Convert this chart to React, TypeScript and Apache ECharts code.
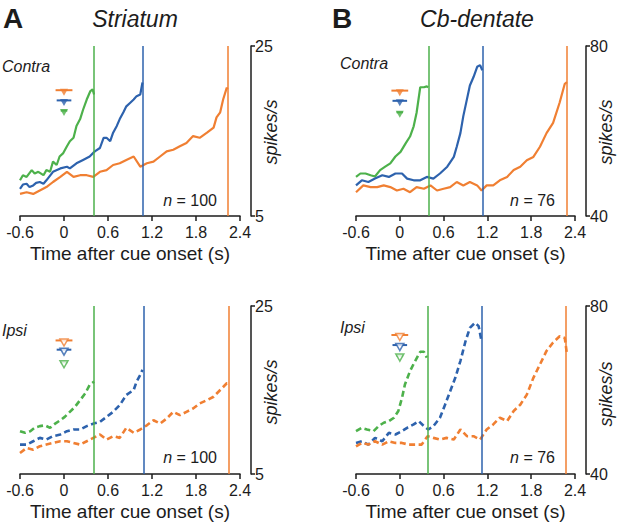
import React, { useEffect, useRef } from "react";
import * as echarts from "echarts";

const ORANGE = "#F07F32";
const BLUE = "#2D62AD";
const GREEN = "#4DB14B";
const INK = "#1c1c1c";
const FONT = "'Liberation Sans', Arial, sans-serif";

const X_TICKS = [-0.6, 0, 0.6, 1.2, 1.8, 2.4];

// ---- Panel A, Striatum, Contra ----
const aTopGreenT = [-0.6, -0.56, -0.51, -0.44, -0.4, -0.35, -0.28, -0.24, -0.19, -0.15, -0.1, -0.06, -0.01, 0.04, 0.08, 0.13, 0.17, 0.22, 0.26, 0.31, 0.36, 0.39, 0.41];
const aTopGreenV = [9.2, 9.8, 9.6, 10.4, 10.0, 10.2, 9.8, 10.4, 10.2, 11.4, 11.0, 12.0, 12.4, 13.2, 13.8, 14.2, 15.6, 16.4, 17.5, 18.7, 19.7, 19.9, 19.3];
const aTopBlueT = [-0.6, -0.56, -0.51, -0.47, -0.42, -0.38, -0.33, -0.28, -0.24, -0.15, -0.05, 0.04, 0.08, 0.17, 0.26, 0.35, 0.42, 0.49, 0.54, 0.58, 0.63, 0.67, 0.72, 0.76, 0.81, 0.85, 0.9, 0.95, 0.99, 1.04, 1.07];
const aTopBlueV = [8.2, 8.7, 8.8, 8.4, 8.6, 8.9, 9.0, 8.8, 9.2, 10.2, 10.6, 10.8, 10.6, 11.2, 11.6, 12.0, 12.6, 13.0, 14.2, 14.2, 13.8, 14.8, 15.6, 16.4, 17.2, 17.9, 18.3, 18.7, 19.1, 19.3, 20.7];
const aTopOrangeT = [-0.6, -0.51, -0.42, -0.33, -0.24, -0.15, -0.05, 0.04, 0.13, 0.22, 0.31, 0.4, 0.49, 0.58, 0.67, 0.76, 0.85, 0.95, 1.04, 1.13, 1.22, 1.31, 1.4, 1.49, 1.58, 1.67, 1.76, 1.85, 1.95, 2.04, 2.08, 2.13, 2.17, 2.22, 2.23];
const aTopOrangeV = [7.6, 7.8, 7.6, 8.0, 8.4, 9.0, 9.6, 10.2, 9.6, 9.8, 9.8, 9.6, 10.2, 10.4, 11.0, 11.2, 11.6, 12.0, 10.8, 11.2, 11.4, 12.0, 12.6, 12.8, 13.2, 13.6, 14.4, 14.2, 14.8, 15.4, 16.6, 17.2, 18.7, 20.1, 19.9];

// ---- Panel A, Striatum, Ipsi ----
const aBotGreenT = [-0.6, -0.53, -0.46, -0.4, -0.33, -0.26, -0.19, -0.12, -0.05, 0.01, 0.08, 0.15, 0.22, 0.29, 0.35, 0.41];
const aBotGreenV = [10.1, 9.9, 10.1, 10.5, 10.7, 10.8, 10.5, 11.0, 11.4, 11.8, 12.4, 13.0, 13.8, 14.6, 15.6, 16.0];
const aBotBlueT = [-0.6, -0.51, -0.42, -0.33, -0.24, -0.15, -0.05, 0.04, 0.13, 0.22, 0.31, 0.4, 0.49, 0.58, 0.67, 0.76, 0.85, 0.95, 0.99, 1.04, 1.07];
const aBotBlueV = [8.5, 8.5, 8.9, 9.3, 9.1, 9.5, 9.7, 10.1, 10.3, 10.3, 10.7, 11.0, 11.2, 11.8, 12.4, 13.2, 14.4, 15.0, 16.0, 16.8, 17.4];
const aBotOrangeT = [-0.6, -0.51, -0.42, -0.33, -0.24, -0.15, -0.05, 0.04, 0.13, 0.22, 0.31, 0.4, 0.49, 0.58, 0.67, 0.76, 0.85, 0.95, 1.04, 1.13, 1.22, 1.31, 1.4, 1.49, 1.58, 1.67, 1.76, 1.85, 1.95, 2.04, 2.13, 2.22, 2.24];
const aBotOrangeV = [7.5, 8.1, 7.9, 8.3, 8.5, 8.7, 8.9, 8.9, 8.7, 8.5, 8.9, 9.3, 9.7, 9.1, 9.5, 9.3, 10.5, 9.9, 10.3, 10.8, 11.4, 11.0, 11.6, 12.4, 12.0, 12.4, 12.8, 13.4, 13.8, 14.2, 15.0, 15.8, 15.8];

// ---- Panel B, Cb-dentate, Contra ----
const bTopGreenT = [-0.6, -0.54, -0.47, -0.4, -0.34, -0.27, -0.2, -0.13, -0.06, 0.01, 0.08, 0.14, 0.19, 0.23, 0.28, 0.33, 0.37, 0.39];
const bTopGreenV = [49.2, 50.0, 50.0, 49.6, 49.3, 50.8, 51.6, 52.4, 54.0, 55.1, 57.1, 58.7, 61.1, 64.3, 70.3, 70.3, 70.5, 70.3];
const bTopBlueT = [-0.6, -0.52, -0.43, -0.34, -0.24, -0.15, -0.06, 0.03, 0.1, 0.19, 0.28, 0.37, 0.46, 0.55, 0.65, 0.74, 0.78, 0.83, 0.87, 0.92, 0.96, 1.01, 1.06, 1.1, 1.13];
const bTopBlueV = [47.2, 48.4, 48.0, 48.8, 49.6, 49.2, 50.0, 50.0, 48.8, 48.4, 48.4, 49.2, 48.8, 50.0, 51.6, 53.9, 56.3, 59.5, 63.5, 67.5, 70.7, 72.7, 75.1, 75.5, 74.3];
const bTopOrangeT = [-0.6, -0.5, -0.4, -0.31, -0.22, -0.13, -0.04, 0.05, 0.14, 0.23, 0.33, 0.42, 0.51, 0.6, 0.69, 0.78, 0.87, 0.96, 1.06, 1.12, 1.19, 1.28, 1.37, 1.47, 1.56, 1.65, 1.74, 1.83, 1.92, 2.01, 2.1, 2.19, 2.26, 2.29];
const bTopOrangeV = [45.6, 47.2, 46.8, 46.8, 47.2, 46.8, 46.0, 46.4, 45.6, 46.8, 46.4, 47.2, 46.0, 46.4, 46.8, 48.0, 47.2, 48.0, 47.2, 46.0, 47.2, 47.2, 48.4, 49.2, 50.8, 51.6, 53.1, 53.9, 56.3, 59.5, 61.9, 66.7, 71.1, 71.5];

// ---- Panel B, Cb-dentate, Ipsi ----
const bBotGreenT = [-0.6, -0.52, -0.45, -0.36, -0.29, -0.22, -0.15, -0.08, -0.02, 0.03, 0.07, 0.14, 0.21, 0.28, 0.33, 0.37];
const bBotGreenV = [50.2, 51.0, 50.6, 50.2, 51.4, 52.2, 52.6, 53.4, 55.0, 58.1, 61.3, 64.5, 66.9, 69.1, 69.1, 67.7];
const bBotBlueT = [-0.6, -0.52, -0.43, -0.34, -0.24, -0.15, -0.06, 0.03, 0.1, 0.19, 0.26, 0.33, 0.39, 0.46, 0.55, 0.62, 0.69, 0.76, 0.83, 0.9, 0.96, 1.03, 1.08, 1.12];
const bBotBlueV = [47.4, 47.8, 47.0, 48.6, 47.8, 49.8, 49.4, 50.2, 51.0, 51.8, 52.6, 51.4, 50.6, 51.4, 53.4, 56.5, 59.7, 62.9, 66.9, 71.6, 74.8, 76.0, 75.2, 71.6];
const bBotOrangeT = [-0.6, -0.52, -0.43, -0.34, -0.24, -0.15, -0.06, 0.03, 0.12, 0.21, 0.3, 0.38, 0.46, 0.55, 0.64, 0.74, 0.83, 0.92, 1.01, 1.1, 1.19, 1.28, 1.37, 1.47, 1.56, 1.65, 1.74, 1.83, 1.92, 2.01, 2.1, 2.19, 2.26, 2.29];
const bBotOrangeV = [46.6, 47.4, 47.0, 47.8, 47.0, 47.8, 47.4, 47.4, 47.0, 47.0, 47.0, 49.0, 48.6, 48.2, 48.6, 48.2, 50.6, 49.0, 49.0, 48.2, 50.6, 51.8, 53.4, 52.6, 55.0, 56.5, 58.9, 62.9, 66.1, 69.3, 71.3, 72.8, 72.4, 68.5];

// movement-onset lines (s): green, blue, orange
const aTopMarks = [0.41, 1.07, 2.23];
const aBotMarks = [0.41, 1.09, 2.24];
const bTopMarks = [0.39, 1.13, 2.29];
const bBotMarks = [0.38, 1.12, 2.28];

// cue markers: y levels (orange, blue, green) and half-widths (s)
const aTopMarkerY = [19.8, 18.6, 17.4];
const aBotMarkerY = [20.9, 19.8, 18.3];
const bTopMarkerY = [69.5, 67.1, 64.4];
const bBotMarkerY = [73.1, 70.7, 68.2];
const markerHalfW = [0.115, 0.1, 0.045];

const yRanges = [
  [5, 25],
  [40, 80],
  [5, 25],
  [40, 80],
];

const zip = (t: number[], v: number[]) => t.map((x, i) => [x, v[i]]);

export default function App() {
  const ref = useRef<HTMLDivElement>(null);
  useEffect(() => {
    if (!ref.current) return;
    const chart = echarts.init(ref.current, null, { renderer: "svg" });

    const grids = [
      { left: 20, top: 46, width: 220, height: 170, outerBoundsMode: "none" },
      { left: 356, top: 46, width: 219, height: 170, outerBoundsMode: "none" },
      { left: 20, top: 306, width: 220, height: 168, outerBoundsMode: "none" },
      { left: 356, top: 306, width: 219, height: 168, outerBoundsMode: "none" },
    ];

    const xAxes = grids.map((_, i) => ({
      type: "value",
      gridIndex: i,
      min: -0.6,
      max: 2.4,
      axisLine: { show: true, onZero: false, lineStyle: { color: INK, width: 1.5 } },
      axisTick: { show: true, length: 5, customValues: X_TICKS, lineStyle: { color: INK, width: 1.5 } },
      axisLabel: {
        customValues: X_TICKS,
        formatter: (v: number) => (Math.abs(v) < 1e-9 ? "0" : v.toFixed(1)),
        fontSize: 16,
        fontFamily: FONT,
        color: INK,
        margin: 8,
      },
      splitLine: { show: false },
      name: "Time after cue onset (s)",
      nameLocation: "middle",
      nameGap: 28,
      nameTextStyle: { fontSize: 19, fontFamily: FONT, color: INK },
    }));

    const yAxes = grids.map((_, i) => ({
      type: "value",
      gridIndex: i,
      position: "right",
      offset: 11,
      min: yRanges[i][0],
      max: yRanges[i][1],
      axisLine: { show: true, onZero: false, lineStyle: { color: INK, width: 1.5 } },
      axisTick: { show: true, length: 4, customValues: yRanges[i], lineStyle: { color: INK, width: 1.5 } },
      axisLabel: { customValues: yRanges[i], fontSize: 16, fontFamily: FONT, color: INK, margin: 4 },
      splitLine: { show: false },
    }));

    const panels = [
      { g: 0, dashed: false, lines: [[aTopGreenT, aTopGreenV], [aTopBlueT, aTopBlueV], [aTopOrangeT, aTopOrangeV]], marks: aTopMarks, my: aTopMarkerY },
      { g: 1, dashed: false, lines: [[bTopGreenT, bTopGreenV], [bTopBlueT, bTopBlueV], [bTopOrangeT, bTopOrangeV]], marks: bTopMarks, my: bTopMarkerY },
      { g: 2, dashed: true, lines: [[aBotGreenT, aBotGreenV], [aBotBlueT, aBotBlueV], [aBotOrangeT, aBotOrangeV]], marks: aBotMarks, my: aBotMarkerY },
      { g: 3, dashed: true, lines: [[bBotGreenT, bBotGreenV], [bBotBlueT, bBotBlueV], [bBotOrangeT, bBotOrangeV]], marks: bBotMarks, my: bBotMarkerY },
    ];
    const lineColors = [GREEN, BLUE, ORANGE];
    const markerColors = [ORANGE, BLUE, GREEN];

    const series: any[] = [];
    panels.forEach((p) => {
      p.lines.forEach(([t, v], k) => {
        series.push({
          type: "line",
          xAxisIndex: p.g,
          yAxisIndex: p.g,
          data: zip(t as number[], v as number[]),
          showSymbol: false,
          symbol: "none",
          smooth: false,
          lineStyle: {
            color: lineColors[k],
            width: p.dashed ? 2.6 : 2.2,
            type: p.dashed ? [6, 3.5] : "solid",
          },
          z: 3,
          markLine: {
            silent: true,
            symbol: ["none", "none"],
            label: { show: false },
            lineStyle: { color: lineColors[k], width: 1.5, type: "solid" },
            data: [{ xAxis: p.marks[k] }],
          },
        });
      });
      p.my.forEach((y, k) => {
        const c = markerColors[k];
        series.push({
          type: "line",
          xAxisIndex: p.g,
          yAxisIndex: p.g,
          data: [[-markerHalfW[k], y], [markerHalfW[k], y]],
          symbol: "none",
          lineStyle: { color: c, width: 2 },
          z: 4,
        });
        series.push({
          type: "scatter",
          xAxisIndex: p.g,
          yAxisIndex: p.g,
          data: [[0, y]],
          symbol: "triangle",
          symbolRotate: 180,
          symbolSize: [8, 7],
          symbolOffset: [0, 2],
          itemStyle: p.dashed
            ? { color: "#ffffff", borderColor: c, borderWidth: 1.5 }
            : { color: c },
          z: 5,
        });
      });
    });

    const txt = (text: string, x: number, y: number, font: string, align = "left", extra: any = {}, rotation = 0) => ({
      type: "text",
      x,
      y,
      rotation,
      style: { text, font, fill: INK, textAlign: align, textVerticalAlign: "middle", ...extra },
    });
    const nRich = { rich: { i: { fontStyle: "italic", fontSize: 16, fontFamily: FONT, fill: INK } } };
    const R = Math.PI / 2;

    const graphic = [
      txt("A", 3, 18, `bold 28px ${FONT}`),
      txt("Striatum", 135, 19, `italic 23px ${FONT}`, "center"),
      txt("B", 332, 18, `bold 28px ${FONT}`),
      txt("Cb-dentate", 477, 19, `italic 23px ${FONT}`, "center"),
      txt("Contra", 2, 66, `italic 16px ${FONT}`),
      txt("Contra", 340, 63, `italic 16px ${FONT}`),
      txt("Ipsi", 2, 330, `italic 16px ${FONT}`),
      txt("Ipsi", 340, 327, `italic 16px ${FONT}`),
      txt("{i|n} = 100", 217, 200, `16px ${FONT}`, "right", nRich),
      txt("{i|n} = 100", 217, 457, `16px ${FONT}`, "right", nRich),
      txt("{i|n} = 76", 555, 200, `16px ${FONT}`, "right", nRich),
      txt("{i|n} = 76", 555, 457, `16px ${FONT}`, "right", nRich),
      txt("spikes/s", 271, 132, `italic 18px ${FONT}`, "center", {}, R),
      txt("spikes/s", 271, 392, `italic 18px ${FONT}`, "center", {}, R),
      txt("spikes/s", 606, 132, `italic 18px ${FONT}`, "center", {}, R),
      txt("spikes/s", 606, 394, `italic 18px ${FONT}`, "center", {}, R),
    ];

    chart.setOption({
      animation: false,
      backgroundColor: "#ffffff",
      textStyle: { fontFamily: FONT },
      grid: grids,
      xAxis: xAxes,
      yAxis: yAxes,
      series,
      graphic,
    });
    return () => chart.dispose();
  }, []);
  return (
    <div
      ref={ref}
      style={{ position: "absolute", left: 0, top: 0, width: 617, height: 525, background: "#fff" }}
    />
  );
}
